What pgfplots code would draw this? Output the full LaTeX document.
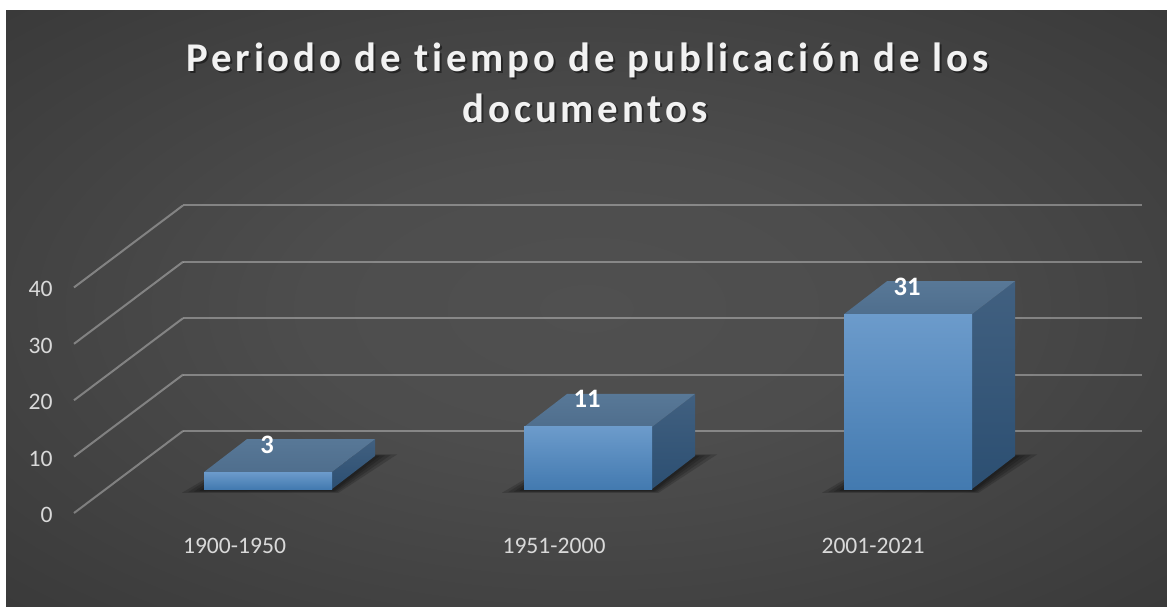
\documentclass[border=0pt]{standalone}
\usepackage{pgfplots}
\pgfplotsset{compat=1.18}
\usepackage{fontspec}
\setmainfont{Carlito}
\newfontfamily\titlefont[LetterSpace=9.5,Ligatures=NoCommon]{Carlito}
\definecolor{tickc}{HTML}{D9D9D9}
\definecolor{titlec}{HTML}{F2F2F2}
\definecolor{frontTop}{HTML}{6C9BCB}
\definecolor{frontBot}{HTML}{437AB0}
\definecolor{sideTop}{HTML}{416080}
\definecolor{sideBot}{HTML}{2C4F72}
\definecolor{topBack}{HTML}{587897}
\definecolor{topFront}{HTML}{4F6E8D}
\pgfdeclareradialshading{bgshade}{\pgfpoint{0bp}{0bp}}{color(0bp)=(rgb,255:red,80;green,80;blue,80); color(12bp)=(rgb,255:red,77;green,77;blue,77); color(55bp)=(rgb,255:red,42;green,42;blue,42); color(71bp)=(rgb,255:red,35;green,35;blue,35)}
\newcommand\barshadow[2]{\pgfplotsinvokeforeach{22,16,10,5}{\fill[black,opacity=0.17] (axis cs:{#1-##1},{-0.3-##1/60}) -- (axis cs:{#2+##1*0.3},{-0.3-##1/60}) -- (axis cs:{#2+43+##1},{5.85+##1/80}) -- (axis cs:{#1+43},{5.85+##1/80}) -- cycle;}}
\begin{document}
\begin{tikzpicture}
\begin{axis}[width=583.5pt,height=303pt,scale only axis,
  xmin=0,xmax=1167,ymin=-20.745,ymax=86.702,
  axis lines=none,xtick=\empty,ytick=\empty,clip=false,
  /pgf/number format/assume math mode=true,
  gridline/.style={draw=white,draw opacity=0.33,line width=1pt,mark=none}]
% background
\fill[white] (rel axis cs:0,0) rectangle (rel axis cs:1,1);
\shade[shading=bgshade] (rel axis cs:0.00514,0) rectangle (rel axis cs:1,0.98185);
% back wall grid lines (values 0..40)
\addplot[gridline] coordinates {(183,10.28)(1142,10.28)};
\addplot[gridline] coordinates {(183,20.28)(1142,20.28)};
\addplot[gridline] coordinates {(183,30.28)(1142,30.28)};
\addplot[gridline] coordinates {(183,40.28)(1142,40.28)};
\addplot[gridline] coordinates {(183,50.28)(1142,50.28)};
% side wall diagonals
\addplot[gridline] coordinates {(74,-4.26)(183,10.28)};
\addplot[gridline] coordinates {(74,5.74)(183,20.28)};
\addplot[gridline] coordinates {(74,15.74)(183,30.28)};
\addplot[gridline] coordinates {(74,25.74)(183,40.28)};
\addplot[gridline] coordinates {(74,35.74)(183,50.28)};
% y tick labels
\begin{scope}[every node/.style={anchor=east,inner sep=0pt,text=tickc,font=\fontsize{11.8}{14}\selectfont}]
\node at (axis cs:53,-4.6) {0};
\node at (axis cs:53,5.4) {10};
\node at (axis cs:53,15.4) {20};
\node at (axis cs:53,25.4) {30};
\node at (axis cs:53,35.4) {40};
\end{scope}
% category labels
\begin{scope}[every node/.style={anchor=base,inner sep=0pt,text=tickc,font=\fontsize{11.8}{14}\selectfont}]
\node at (axis cs:234.5,-11.35) {1900-1950};
\node at (axis cs:554,-11.35) {1951-2000};
\node at (axis cs:873,-11.35) {2001-2021};
\end{scope}
% shadows
\barshadow{204}{332}
\barshadow{524}{652}
\barshadow{844}{972}
% side faces
\addplot[draw=none,top color=sideTop,bottom color=sideBot,mark=none] coordinates {(332,0)(375,5.85)(375,8.85)(332,3)} --cycle;
\addplot[draw=none,top color=sideTop,bottom color=sideBot,mark=none] coordinates {(652,0)(695,5.85)(695,16.85)(652,11)} --cycle;
\addplot[draw=none,top color=sideTop,bottom color=sideBot,mark=none] coordinates {(972,0)(1015,5.85)(1015,36.85)(972,31)} --cycle;
% top faces
\addplot[draw=none,top color=topBack,bottom color=topFront,mark=none] coordinates {(204,3)(332,3)(375,8.85)(247,8.85)} --cycle;
\addplot[draw=none,top color=topBack,bottom color=topFront,mark=none] coordinates {(524,11)(652,11)(695,16.85)(567,16.85)} --cycle;
\addplot[draw=none,top color=topBack,bottom color=topFront,mark=none] coordinates {(844,31)(972,31)(1015,36.85)(887,36.85)} --cycle;
% front faces with data labels
\pgfplotsset{frontbar/.style={ybar,bar width=128,bar shift=0pt,draw=none,top color=frontTop,bottom color=frontBot,
  nodes near coords,every node near coord/.append style={anchor=base,yshift=9.5pt,xshift=-0.5pt,text=white,font=\bfseries\fontsize{13.3}{16}\selectfont}}}
\addplot[frontbar] coordinates {(268,3)};
\addplot[frontbar] coordinates {(588,11)};
\addplot[frontbar] coordinates {(908,31)};
% title
\node[anchor=base,inner sep=0pt,text=black,opacity=0.45,font=\titlefont\bfseries\fontsize{20.4}{24}\selectfont] at (axis cs:589.5,73.75) {Periodo de tiempo de publicación de los};
\node[anchor=base,inner sep=0pt,text=black,opacity=0.45,font=\titlefont\bfseries\fontsize{20.4}{24}\selectfont] at (axis cs:587,64.88) {documentos};
\node[anchor=base,inner sep=0pt,text=titlec,font=\titlefont\bfseries\fontsize{20.4}{24}\selectfont] at (axis cs:587.5,73.94) {Periodo de tiempo de publicación de los};
\node[anchor=base,inner sep=0pt,text=titlec,font=\titlefont\bfseries\fontsize{20.4}{24}\selectfont] at (axis cs:585,65.07) {documentos};
\end{axis}
\end{tikzpicture}
\end{document}
